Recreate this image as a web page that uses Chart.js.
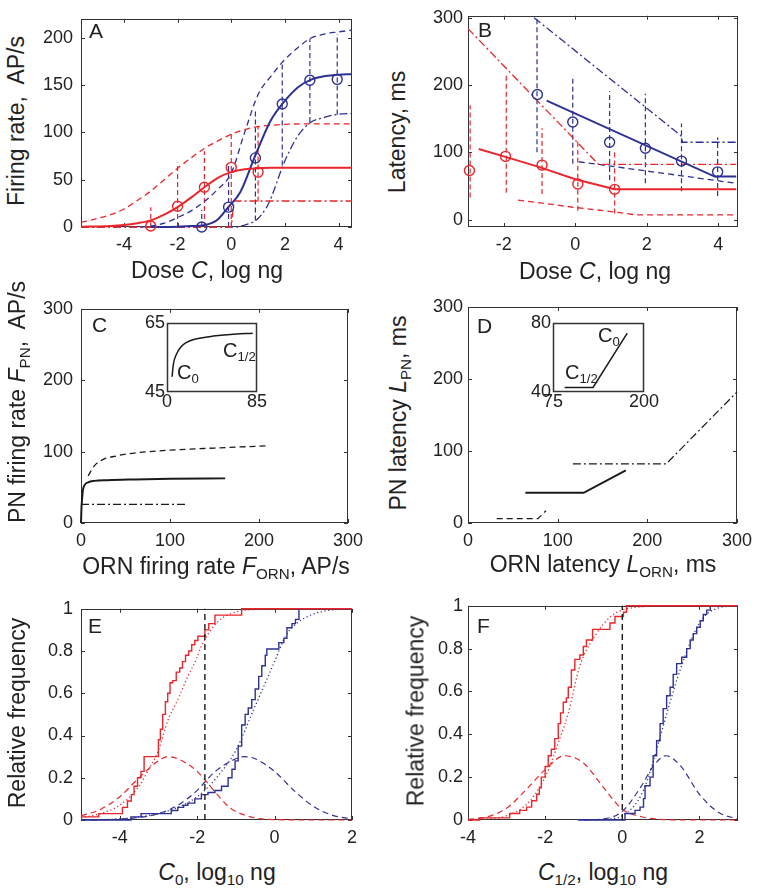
<!DOCTYPE html>
<html>
<head>
<meta charset="utf-8">
<script src="https://cdn.jsdelivr.net/npm/chart.js@4.4.1/dist/chart.umd.min.js"></script>
<style>
body{margin:0;background:#fff;}
#fig{position:relative;width:759px;height:896px;overflow:hidden;font-family:"Liberation Sans",Arial,sans-serif;color:#222;}
canvas{position:absolute;}
.t{position:absolute;white-space:nowrap;line-height:1;font-size:23px;transform:translate(-50%,-50%);}
.t.r{transform:translate(-50%,-50%) rotate(-90deg);}
.l{position:absolute;white-space:nowrap;line-height:1;font-size:21px;}
.l.s{font-size:20px;}
sub{font-size:0.66em;position:relative;top:0.32em;vertical-align:baseline;line-height:0;}
</style>
</head>
<body>
<div id="fig">
  <canvas id="cA" width="340" height="255" style="left:30px;top:0px"></canvas>
  <canvas id="cB" width="339" height="255" style="left:420px;top:0px"></canvas>
  <canvas id="cC" width="340" height="265" style="left:30px;top:290px"></canvas>
  <canvas id="cD" width="339" height="265" style="left:420px;top:290px"></canvas>
  <canvas id="cE" width="340" height="260" style="left:30px;top:590px"></canvas>
  <canvas id="cF" width="339" height="260" style="left:420px;top:590px"></canvas>
  <canvas id="cCi" width="150" height="110" style="left:120px;top:310px"></canvas>
  <canvas id="cDi" width="160" height="110" style="left:500px;top:310px"></canvas>

  <div class="l" style="left:89px;top:20px">A</div>
  <div class="l" style="left:478px;top:19px">B</div>
  <div class="l" style="left:92px;top:314px">C</div>
  <div class="l" style="left:477px;top:315px">D</div>
  <div class="l" style="left:88px;top:615px">E</div>
  <div class="l" style="left:477px;top:615px">F</div>

  <div class="t r" style="left:16px;top:121px">Firing rate,&nbsp; AP/s</div>
  <div class="t" style="left:207px;top:270px">Dose <i>C</i>, log ng</div>
  <div class="t r" style="left:397px;top:132px">Latency, ms</div>
  <div class="t" style="left:595px;top:271px">Dose <i>C</i>, log ng</div>
  <div class="t r" style="left:17px;top:402px">PN firing rate <i>F</i><sub>PN</sub>,&nbsp; AP/s</div>
  <div class="t" style="left:216px;top:566px">ORN firing rate <i>F</i><sub>ORN</sub>, AP/s</div>
  <div class="t r" style="left:398px;top:413px">PN latency <i>L</i><sub>PN</sub>, ms</div>
  <div class="t" style="left:603px;top:564px">ORN latency <i>L</i><sub>ORN</sub>, ms</div>
  <div class="t r" style="left:17px;top:713px">Relative frequency</div>
  <div class="t" style="left:217px;top:872px"><i>C</i><sub>0</sub>, log<sub>10</sub> ng</div>
  <div class="t r" style="left:416px;top:711px">Relative frequency</div>
  <div class="t" style="left:603px;top:872px"><i>C</i><sub>1/2</sub>, log<sub>10</sub> ng</div>

  <div class="l s" style="left:223px;top:340px">C<sub>1/2</sub></div>
  <div class="l s" style="left:177px;top:362px">C<sub>0</sub></div>
  <div class="l s" style="left:598px;top:325px">C<sub>0</sub></div>
  <div class="l s" style="left:565px;top:362px">C<sub>1/2</sub></div>
</div>

<script>
const RED = '#e8262b', BLUE = '#2e3192', BLK = '#1a1a1a';
const FONT = 'Liberation Sans';

// ---- A : firing rate vs dose ----
const aDoseTicks = [-4, -2, 0, 2, 4];
const aRateTicks = [0, 50, 100, 150, 200];
const aPnDose = [-3, -2, -1, 0, 1];
const aPnRate = [1, 22, 42, 63, 58];
const aOrnDose = [-1.1, -0.1, 0.9, 1.9, 2.93, 3.95];
const aOrnRate = [0, 21, 73, 130, 155, 156];
const aPnFitX = [-5.6, -4.5, -4, -3.5, -3, -2.5, -2, -1.5, -1, -0.5, 0, 0.5, 1, 1.5, 2, 3, 4.5];
const aPnFitY = [0.3, 1, 2, 4, 7, 13, 21, 31, 42, 52, 58, 61, 62, 62.5, 62.5, 62.5, 62.5];
const aOrnFitX = [-3, -2, -1.5, -1, -0.5, -0.14, 0.34, 0.86, 1.46, 1.9, 2.5, 3, 3.5, 4, 4.5];
const aOrnFitY = [0, 0.3, 1, 2, 8, 20, 37, 73, 112, 130, 148, 156, 159.5, 161, 161.5];
const aPnHiX = [-5.6, -5, -4.5, -4, -3.5, -3, -2.5, -2, -1.5, -1, -0.5, 0, 0.5, 1, 1.5, 2, 3, 4.5];
const aPnHiY = [5, 9, 13, 19, 28, 38, 50, 62, 73, 83, 91, 98, 103, 106, 107.5, 108.5, 109, 109];
const aPnLoX = [-5.6, 0, 0.1, 4.5];
const aPnLoY = [0, 0, 27.5, 27.5];
const aOrnHiX = [-3.4, -3, -2.5, -2, -1.5, -1, -0.5, 0, 0.5, 1, 1.5, 1.9, 2.5, 2.93, 3.5, 3.95, 4.5];
const aOrnHiY = [0, 1, 4, 10, 17, 27, 40, 57, 100, 140, 160, 174, 190, 199, 204, 206, 208];
const aOrnLoX = [-5.6, 0.2, 0.5, 0.8, 1, 1.3, 1.5, 1.71, 1.9, 2.2, 2.5, 2.93, 3.5, 3.95, 4.5];
const aOrnLoY = [0, 0, 2, 5, 9, 20, 32, 48, 63, 82, 97, 110, 116, 119, 120];
const aPnBarLo = [0, 0, 0, 0, 27];
const aPnBarHi = [21, 68, 80, 101, 107];
const aOrnBarLo = [0, 0, 7, 65, 111, 119];
const aOrnBarHi = [18, 68, 122, 174, 199, 204];

// ---- B : latency vs dose ----
const bDoseTicks = [-2, 0, 2, 4];
const bLatTicks = [0, 100, 200, 300];
const bPnDose = [-2.96, -1.95, -0.93, 0.07, 1.1];
const bPnLat = [73, 94, 81, 53, 45];
const bOrnDose = [-1.06, -0.07, 0.96, 1.96, 2.97, 3.98];
const bOrnLat = [186, 145, 115, 106, 87, 71];
const bPnFitX = [-2.7, -2, -1, 0, 1.1, 4.5];
const bPnFitY = [105, 94, 78, 60, 45, 45];
const bOrnFitX = [-0.8, 3.9, 4.5];
const bOrnFitY = [177, 64, 64];
const bPnHiX = [-3, 0.65, 4.5];
const bPnHiY = [284, 82, 82];
const bPnLoX = [-1.6, 0, 1, 1.7, 4.5];
const bPnLoY = [29, 18, 12, 7, 7];
const bOrnHiX = [-1.15, 2.95, 3.0, 4.5];
const bOrnHiY = [300, 125, 115, 115];
const bOrnLoX = [0.1, 4.5];
const bOrnLoY = [86, 54];
const bPnBarX = [-2.94, -1.93, -0.93, 0.07, 1.1];
const bPnBarLo = [33, 40, 38, 13, 9];
const bPnBarHi = [170, 215, 136, 119, 100];
const bOrnBarX = [-1.07, -0.07, 0.96, 1.96, 2.97, 3.98];
const bOrnBarLo = [100, 83, 59, 54, 42, 35];
const bOrnBarHi = [302, 213, 191, 187, 143, 122];

// ---- C : PN vs ORN firing rate ----
const cTicks = [0, 100, 200, 300];
const cMidX = [0, 0.5, 1, 2, 4, 8, 15, 30, 60, 100, 162];
const cMidY = [0, 20, 30, 45, 53, 57, 59, 60, 61, 62, 62.5];
const cHiX = [8, 15, 25, 40, 60, 100, 150, 208];
const cHiY = [66, 80, 89, 94, 98, 102, 105, 108];
const cLoX = [0, 119];
const cLoY = [26, 26];
const ciXTicks = [0, 85];
const ciYTicks = [45, 65];
const ciX = [4.8, 6, 9, 13, 18, 28, 40, 60, 81];
const ciY = [49.4, 53, 56, 58, 59.3, 60.4, 61, 61.6, 62];

// ---- D : PN vs ORN latency ----
const dTicks = [0, 100, 200, 300];
const dMidX = [64, 129, 176];
const dMidY = [42, 42, 73];
const dHiX = [117, 221, 300];
const dHiY = [82, 82, 182];
const dLoX = [32, 78, 87];
const dLoY = [6, 6, 17];
const diXTicks = [75, 200];
const diYTicks = [40, 80];
const diX = [91, 130, 177];
const diY = [42.6, 42.6, 74];

// ---- E : distribution of C0 ----
const eXTicks = [-4, -2, 0, 2];
const freqTicks = [0, 0.2, 0.4, 0.6, 0.8, 1];
const eCut = -1.8;
const ePnStepX = [-5, -4.54, -3.93, -3.8, -3.7, -3.63, -3.54, -3.45, -3.37, -3.0, -2.95, -2.89, -2.82, -2.76, -2.7, -2.63, -2.54, -2.45, -2.38, -2.3, -2.22, -2.14, -2.06, -1.98, -1.8, -1.7, -1.54, -0.85, 2];
const ePnStepY = [0.015, 0.03, 0.06, 0.09, 0.12, 0.16, 0.2, 0.23, 0.3, 0.38, 0.43, 0.5, 0.56, 0.6, 0.65, 0.66, 0.7, 0.72, 0.75, 0.78, 0.8, 0.83, 0.85, 0.87, 0.9, 0.93, 0.97, 1, 1];
const eOrnStepX = [-5, -3.71, -3.45, -2.67, -2.5, -2.35, -2.24, -2.06, -1.89, -1.72, -1.54, -1.37, -1.2, -1.1, -1.02, -0.94, -0.85, -0.76, -0.68, -0.59, -0.5, -0.41, -0.33, -0.24, -0.2, 0.11, 0.24, 0.32, 0.45, 0.54, 0.63, 2];
const eOrnStepY = [0, 0.015, 0.03, 0.045, 0.06, 0.07, 0.08, 0.1, 0.12, 0.13, 0.14, 0.16, 0.2, 0.24, 0.28, 0.35, 0.45, 0.5, 0.53, 0.57, 0.62, 0.68, 0.73, 0.78, 0.81, 0.84, 0.86, 0.91, 0.93, 0.95, 1, 1];
const ePnCdfX = [-5, -4.5, -4, -3.5, -3.28, -3, -2.76, -2.5, -2.24, -2, -1.9, -1.46, -1, -0.5, 0, 2];
const ePnCdfY = [0.01, 0.03, 0.07, 0.16, 0.23, 0.33, 0.47, 0.57, 0.68, 0.77, 0.82, 0.94, 0.985, 0.997, 1, 1];
const eOrnCdfX = [-5, -4, -3.5, -3, -2.5, -2, -1.5, -1, -0.5, 0, 0.28, 0.5, 1, 1.5, 2];
const eOrnCdfY = [0, 0.005, 0.015, 0.03, 0.06, 0.11, 0.2, 0.33, 0.54, 0.75, 0.87, 0.92, 0.975, 0.995, 1];
const ePnPdfX = [-5, -4.5, -4, -3.5, -3, -2.75, -2.5, -2.25, -2, -1.8, -1.5, -1.2, -1, -0.5, 0, 1, 2];
const ePnPdfY = [0.02, 0.05, 0.11, 0.2, 0.28, 0.3, 0.29, 0.265, 0.23, 0.19, 0.125, 0.065, 0.04, 0.01, 0.002, 0, 0];
const eOrnPdfX = [-5, -4, -3.5, -3, -2.5, -2, -1.8, -1.5, -1, -0.8, -0.5, 0, 0.5, 1, 1.5, 2];
const eOrnPdfY = [0, 0.004, 0.012, 0.03, 0.07, 0.14, 0.18, 0.235, 0.29, 0.3, 0.29, 0.23, 0.14, 0.065, 0.022, 0.005];

// ---- F : distribution of C1/2 ----
const fXTicks = [-4, -2, 0, 2];
const fCut = 0;
const fPnStepX = [-4, -3.7, -2.92, -2.66, -2.48, -2.35, -2.22, -2.15, -2.1, -2.0, -1.92, -1.84, -1.75, -1.66, -1.6, -1.53, -1.45, -1.4, -1.32, -1.23, -1.1, -1.01, -0.93, -0.77, -0.32, -0.19, 0.03, 0.11, 3];
const fPnStepY = [0, 0.01, 0.03, 0.045, 0.06, 0.09, 0.12, 0.15, 0.2, 0.25, 0.3, 0.33, 0.38, 0.45, 0.5, 0.55, 0.57, 0.62, 0.7, 0.75, 0.77, 0.81, 0.84, 0.89, 0.92, 0.95, 0.97, 1, 1];
const fOrnStepX = [-1.15, 0.07, 0.33, 0.46, 0.55, 0.59, 0.72, 0.8, 0.89, 0.98, 1.06, 1.15, 1.24, 1.32, 1.41, 1.54, 1.67, 1.76, 1.84, 1.93, 2.02, 2.1, 2.19, 2.28, 3];
const fOrnStepY = [0, 0.03, 0.045, 0.06, 0.1, 0.16, 0.2, 0.3, 0.37, 0.45, 0.52, 0.58, 0.62, 0.68, 0.73, 0.76, 0.8, 0.84, 0.87, 0.9, 0.93, 0.96, 0.98, 1, 1];
const fPnCdfX = [-4, -3.5, -3, -2.5, -2, -1.62, -1.4, -1.1, -0.67, -0.3, 0, 0.5, 1, 3];
const fPnCdfY = [0, 0.005, 0.02, 0.07, 0.2, 0.38, 0.5, 0.72, 0.87, 0.95, 0.98, 0.995, 1, 1];
const fOrnCdfX = [-1, -0.5, 0, 0.5, 0.8, 1, 1.5, 2, 2.5, 3];
const fOrnCdfY = [0, 0.003, 0.02, 0.12, 0.27, 0.4, 0.7, 0.92, 0.99, 1];
const fPnPdfX = [-4, -3.5, -3, -2.5, -2, -1.5, -1, -0.5, 0, 0.5, 1, 1.5, 3];
const fPnPdfY = [0.003, 0.015, 0.055, 0.14, 0.235, 0.3, 0.265, 0.155, 0.05, 0.015, 0.003, 0, 0];
const fOrnPdfX = [-1, -0.5, 0, 0.5, 0.8, 1.13, 1.5, 2, 2.5, 3];
const fOrnPdfY = [0, 0.005, 0.04, 0.16, 0.25, 0.3, 0.255, 0.12, 0.035, 0.005];

// ---------------- helpers ----------------
const DASH = [6, 4], DASHDOT = [8, 3, 2, 3], DOT = [1.2, 2.6];

function pts(xs, ys) { return xs.map((x, i) => ({ x: x, y: ys[i] })); }

function line(xs, ys, color, width, dash, smooth) {
  return {
    data: pts(xs, ys), showLine: true, borderColor: color, borderWidth: width,
    borderDash: dash || [], pointRadius: 0, tension: 0,
    cubicInterpolationMode: smooth ? 'monotone' : 'default', clip: false
  };
}

function steps(xs, ys, color) {
  const d = line(xs, ys, color, 1.4);
  d.stepped = true;
  return d;
}

function circles(xs, ys, color) {
  return {
    data: pts(xs, ys), showLine: false, pointRadius: 5, pointBorderWidth: 1.4,
    pointBorderColor: color, pointBackgroundColor: 'rgba(0,0,0,0)', clip: false
  };
}

function bars(xs, lo, hi, color) {
  return xs.map((x, i) => line([x, x], [lo[i], hi[i]], color, 1.2, [5, 3]));
}

function vline(x, y0, y1) { return line([x, x], [y0, y1], BLK, 1.4, [6, 4]); }

function axis(min, max, ticks, size, isY, pad) {
  return {
    type: 'linear', min: min, max: max,
    grid: { display: false, drawTicks: false },
    border: { display: false },
    ticks: {
      font: { family: FONT, size: 18 }, color: '#222', padding: pad,
      autoSkip: false, maxRotation: 0, callback: v => String(v)
    },
    afterBuildTicks: s => { s.ticks = ticks.map(v => ({ value: v })); },
    afterFit: s => { if (isY) s.width = size; else s.height = size; }
  };
}

// box round the plot area with inward tick marks (matlab look)
const frame = {
  id: 'frame',
  beforeDatasetsDraw(chart, args, opts) {
    const ctx = chart.ctx, a = chart.chartArea;
    const len = opts.tick || 0;
    ctx.save();
    ctx.strokeStyle = '#333';
    ctx.lineWidth = opts.width || 1;
    ctx.strokeRect(Math.round(a.left) + 0.5, Math.round(a.top) + 0.5,
      Math.round(a.right - a.left) - 1, Math.round(a.bottom - a.top) - 1);
    if (len) {
      ctx.beginPath();
      chart.scales.x.ticks.forEach(t => {
        const p = Math.round(chart.scales.x.getPixelForValue(t.value)) + 0.5;
        ctx.moveTo(p, a.bottom); ctx.lineTo(p, a.bottom - len);
        ctx.moveTo(p, a.top); ctx.lineTo(p, a.top + len);
      });
      chart.scales.y.ticks.forEach(t => {
        const p = Math.round(chart.scales.y.getPixelForValue(t.value)) + 0.5;
        ctx.moveTo(a.left, p); ctx.lineTo(a.left + len, p);
        ctx.moveTo(a.right, p); ctx.lineTo(a.right - len, p);
      });
      ctx.stroke();
    }
    ctx.restore();
  }
};

function makeChart(id, datasets, xs, ys, padTop, padRight, tick, width) {
  return new Chart(document.getElementById(id), {
    type: 'scatter',
    data: { datasets: datasets },
    options: {
      responsive: false, animation: false, events: [],
      layout: { padding: { top: padTop, right: padRight, left: 0, bottom: 0 } },
      plugins: { legend: { display: false }, tooltip: { enabled: false }, frame: { tick: tick, width: width } },
      scales: { x: xs, y: ys }
    },
    plugins: [frame]
  });
}

// ---------------- panels ----------------
makeChart('cA', [
  circles(aPnDose, aPnRate, RED),
  circles(aOrnDose, aOrnRate, BLUE),
  line(aPnFitX, aPnFitY, RED, 2, null, true),
  line(aOrnFitX, aOrnFitY, BLUE, 2, null, true),
  line(aPnHiX, aPnHiY, RED, 1.3, DASH, true),
  line(aPnLoX, aPnLoY, RED, 1.3, DASHDOT),
  line(aOrnHiX, aOrnHiY, BLUE, 1.3, DASH, true),
  line(aOrnLoX, aOrnLoY, BLUE, 1.3, DASHDOT, true),
  ...bars(aPnDose, aPnBarLo, aPnBarHi, RED),
  ...bars(aOrnDose, aOrnBarLo, aOrnBarHi, BLUE)
], axis(-5.6, 4.5, aDoseTicks, 28, false, 7), axis(0, 220, aRateTicks, 51, true, 8), 11, 18, 4);

makeChart('cB', [
  circles(bPnDose, bPnLat, RED),
  circles(bOrnDose, bOrnLat, BLUE),
  line(bPnFitX, bPnFitY, RED, 2),
  line(bOrnFitX, bOrnFitY, BLUE, 2),
  line(bPnHiX, bPnHiY, RED, 1.3, DASHDOT),
  line(bPnLoX, bPnLoY, RED, 1.3, DASH),
  line(bOrnHiX, bOrnHiY, BLUE, 1.3, DASHDOT),
  line(bOrnLoX, bOrnLoY, BLUE, 1.3, DASH),
  ...bars(bPnBarX, bPnBarLo, bPnBarHi, RED),
  ...bars(bOrnBarX, bOrnBarLo, bOrnBarHi, BLUE)
], axis(-3, 4.55, bDoseTicks, 28, false, 7), axis(-11, 303, bLatTicks, 48, true, 5), 11, 21, 4);

makeChart('cC', [
  line(cMidX, cMidY, BLK, 2, null, true),
  line(cHiX, cHiY, BLK, 1.3, DASH, true),
  line(cLoX, cLoY, BLK, 1.2, DASHDOT)
], axis(0, 300, cTicks, 32, false, 7), axis(0, 300, cTicks, 51, true, 8), 17, 19, 4);

makeChart('cD', [
  line(dMidX, dMidY, BLK, 2),
  line(dHiX, dHiY, BLK, 1.2, DASHDOT),
  line(dLoX, dLoY, BLK, 1.3, DASH)
], axis(0, 300, dTicks, 32, false, 7), axis(0, 300, dTicks, 48, true, 5), 17, 21, 4);

makeChart('cCi', [
  line(ciX, ciY, BLK, 1.5, null, true)
], axis(0, 85, ciXTicks, 28, false, -1), axis(45, 65, ciYTicks, 47, true, 2), 12, 13, 0, 1.5);

makeChart('cDi', [
  line(diX, diY, BLK, 1.5)
], axis(75, 200, diXTicks, 28, false, -1), axis(40, 80, diYTicks, 53, true, 2), 12, 16, 0, 1.5);

makeChart('cE', [
  vline(eCut, 0, 1),
  steps(ePnStepX, ePnStepY, RED),
  steps(eOrnStepX, eOrnStepY, BLUE),
  line(ePnCdfX, ePnCdfY, RED, 1.3, DOT, true),
  line(eOrnCdfX, eOrnCdfY, BLUE, 1.3, DOT, true),
  line(ePnPdfX, ePnPdfY, RED, 1.2, DASH, true),
  line(eOrnPdfX, eOrnPdfY, BLUE, 1.2, DASH, true)
], axis(-5, 2, eXTicks, 30, false, 7), axis(0, 1, freqTicks, 51, true, 8), 15, 18, 4);

makeChart('cF', [
  vline(fCut, 0, 1),
  steps(fPnStepX, fPnStepY, RED),
  steps(fOrnStepX, fOrnStepY, BLUE),
  line(fPnCdfX, fPnCdfY, RED, 1.3, DOT, true),
  line(fOrnCdfX, fOrnCdfY, BLUE, 1.3, DOT, true),
  line(fPnPdfX, fPnPdfY, RED, 1.2, DASH, true),
  line(fOrnPdfX, fOrnPdfY, BLUE, 1.2, DASH, true)
], axis(-4, 3, fXTicks, 30, false, 7), axis(0, 1, freqTicks, 48, true, 5), 15, 21, 4);
</script>
</body>
</html>
